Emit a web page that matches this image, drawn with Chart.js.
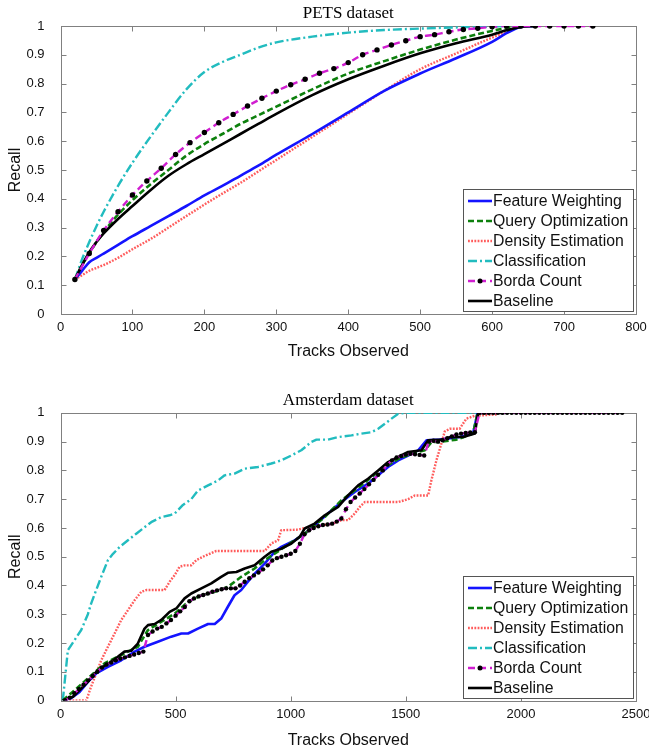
<!DOCTYPE html>
<html><head><meta charset="utf-8">
<script src="https://cdn.jsdelivr.net/npm/chart.js@4.4.0/dist/chart.umd.min.js"></script>
<style>
html,body{margin:0;padding:0;background:#fff;width:649px;height:753px;overflow:hidden;}
.box{position:absolute;left:0;width:649px;}
canvas{display:block;}
</style></head><body>
<div class="box" style="top:0;height:372px"><canvas id="c1" width="649" height="372"></canvas></div>
<div class="box" style="top:386px;height:367px"><canvas id="c2" width="649" height="367"></canvas></div>
<script>
// ---------- labels ----------
const legendLabels = ['Feature Weighting','Query Optimization','Density Estimation','Classification','Borda Count','Baseline'];
const yTickVals = [0,0.1,0.2,0.3,0.4,0.5,0.6,0.7,0.8,0.9,1];
const yTickLabels = ['0','0.1','0.2','0.3','0.4','0.5','0.6','0.7','0.8','0.9','1'];
const petsXTickVals = [0,100,200,300,400,500,600,700,800];
const petsXTickLabels = ['0','100','200','300','400','500','600','700','800'];
const amsXTickVals = [0,500,1000,1500,2000,2500];
const amsXTickLabels = ['0','500','1000','1500','2000','2500'];

// ---------- PETS dataset ----------
const petsX = [20,30,40,50,60,80,100,125,150,175,200,225,250,275,300,350,400,450,500,550,600,620,640,660];
const petsFW = [.12,.15,.18,.195,.21,.24,.27,.305,.34,.375,.412,.445,.48,.515,.553,.625,.70,.775,.835,.888,.945,.975,.997,1];
const petsQO = [.12,.17,.21,.25,.285,.345,.395,.45,.50,.55,.59,.625,.66,.69,.72,.78,.835,.878,.918,.953,.983,.993,1,1];
const petsDE = [.12,.135,.15,.16,.17,.195,.225,.26,.30,.34,.38,.418,.455,.495,.535,.615,.695,.775,.85,.905,.96,.98,1,1];
const petsCL = [.12,.19,.25,.305,.355,.445,.525,.615,.70,.78,.84,.875,.90,.925,.943,.963,.977,.986,.991,.995,.998,1,1,1];
const petsBL = [.12,.17,.215,.25,.28,.33,.375,.43,.48,.52,.555,.59,.625,.66,.695,.76,.815,.862,.905,.94,.97,.985,.997,1];
const petsBCX = [20,40,60,80,100,120,140,160,180,200,220,240,260,280,300,320,340,360,380,400,420,440,460,480,500,520,540,560,580,600,620,640,660,680,700,720,740];
const petsBC = [.12,.21,.29,.355,.413,.462,.506,.554,.595,.63,.664,.693,.722,.749,.774,.796,.815,.836,.852,.873,.90,.917,.934,.949,.963,.970,.98,.988,.992,.997,1,1,1,1,1,1,1];

// ---------- Amsterdam dataset ----------
const amsFWX = [10,46,83,119,155,206,264,322,365,423,481,525,554,597,641,670,698,727,756,785,814,843,887,930,959,1017,1061,1104,1162,1220,1278,1336,1380,1423,1467,1510,1554,1590,1647,1734,1792,1812,1830];
const amsFWY = [0,.008,.03,.065,.094,.117,.14,.17,.187,.204,.222,.233,.233,.25,.266,.266,.285,.326,.366,.384,.413,.44,.476,.517,.534,.557,.58,.609,.65,.69,.725,.754,.783,.812,.835,.852,.87,.905,.907,.916,.928,1,1];
const amsQOX = [10,46,119,191,264,336,380,438,496,554,612,670,727,785,843,887,974,1061,1148,1220,1278,1351,1409,1467,1525,1583,1612,1647,1720,1792,1812,1830];
const amsQOY = [0,.025,.077,.129,.158,.187,.245,.274,.302,.343,.366,.378,.395,.43,.459,.488,.534,.58,.638,.696,.73,.777,.812,.84,.858,.87,.899,.899,.907,.928,1,1];
const amsDEX = [10,112,133,155,177,206,235,264,293,322,351,372,452,474,496,517,539,568,590,619,648,677,887,916,945,959,1032,1061,1184,1220,1249,1278,1300,1322,1467,1510,1539,1597,1611,1633,1655,1669,1691,1734,1763,1800,1900];
const amsDEY = [0,0,.048,.094,.14,.187,.233,.28,.314,.349,.378,.384,.384,.413,.436,.465,.47,.47,.488,.5,.51,.52,.52,.546,.557,.592,.594,.6,.615,.627,.627,.65,.673,.69,.69,.7,.713,.713,.765,.835,.895,.935,.945,.945,.98,.99,.995];
const amsCLX = [10,32,61,90,119,133,155,177,206,228,257,293,329,358,394,438,474,496,532,568,597,641,684,713,756,800,858,916,959,1003,1046,1090,1112,1162,1206,1264,1307,1351,1380,1409,1438,1467,1496,1820];
const amsCLY = [0,.175,.21,.245,.3,.337,.384,.43,.488,.51,.534,.557,.58,.598,.62,.638,.644,.65,.68,.70,.73,.748,.765,.783,.789,.806,.812,.824,.835,.852,.87,.899,.907,.907,.916,.922,.928,.933,.945,.962,.98,.997,1,1];
const amsBLX = [10,54,83,119,148,184,213,249,278,307,336,365,380,409,438,474,503,539,568,612,655,698,727,764,800,843,887,916,959,1003,1039,1061,1104,1148,1206,1249,1293,1336,1380,1423,1467,1510,1568,1597,1669,1691,1749,1800,1814,1930];
const amsBLY = [0,.013,.036,.065,.094,.117,.13,.152,.17,.173,.198,.25,.262,.266,.28,.308,.32,.355,.372,.39,.407,.43,.444,.447,.459,.47,.5,.517,.528,.546,.569,.598,.615,.644,.673,.713,.748,.771,.8,.829,.847,.864,.87,.905,.907,.916,.916,.928,1,1];
const amsBCX = [20,40,60,80,100,120,140,160,180,200,220,240,260,280,300,320,340,360,380,400,420,440,460,480,500,520,540,560,580,600,620,640,660,680,700,720,740,760,780,800,820,840,860,880,900,920,940,960,980,1000,1020,1040,1060,1080,1100,1120,1140,1160,1180,1200,1220,1240,1260,1280,1300,1320,1340,1360,1380,1400,1420,1440,1460,1480,1500,1520,1540,1560,1580,1600,1620,1640,1660,1680,1700,1720,1740,1760,1780,1800,1820,1840,1860,1880,1900,1920,1940,1960,1980,2000,2020,2040,2060,2080,2100,2120,2140,2160,2180,2200,2220,2240,2260,2280,2300,2320,2340,2360,2380,2400,2420,2440];
const amsBCY = [0,.01,.025,.04,.055,.07,.085,.10,.115,.125,.132,.14,.146,.15,.155,.16,.165,.17,.228,.24,.25,.256,.268,.28,.295,.31,.325,.345,.355,.362,.367,.372,.378,.383,.387,.39,.39,.39,.40,.413,.425,.435,.445,.456,.47,.487,.495,.50,.505,.51,.52,.545,.578,.592,.60,.606,.61,.612,.615,.622,.633,.665,.69,.706,.72,.735,.752,.767,.785,.80,.82,.835,.845,.85,.855,.858,.856,.854,.852,.90,.903,.90,.905,.912,.918,.925,.928,.93,.932,.933,1,1,1,1,1,1,1,1,1,1,1,1,1,1,1,1,1,1,1,1,1,1,1,1,1,1,1,1,1,1,1,1];

// ---------- styles ----------
const STY = {
  'Feature Weighting': {borderColor:'#1414ff', borderWidth:2.6, borderDash:[], order:3},
  'Query Optimization': {borderColor:'#0d800d', borderWidth:2.6, borderDash:[6,3], order:2},
  'Density Estimation': {borderColor:'#ff5c5c', borderWidth:2.4, borderDash:[1.8,1.4], order:4},
  'Classification': {borderColor:'#22bcbf', borderWidth:2.4, borderDash:[9,3,2,3], order:5},
  'Borda Count': {borderColor:'#d01ed0', borderWidth:2.4, borderDash:[7,4], order:0},
  'Baseline': {borderColor:'#000000', borderWidth:2.6, borderDash:[], order:1}
};
function mk(label, xs, ys, extra) {
  return Object.assign({label, data: xs.map((x,i)=>({x, y: ys[i]})), pointRadius:0, fill:false,
    borderCapStyle:'butt', borderJoinStyle:'round'}, STY[label], extra||{});
}

const framePlugin = {
  id:'frame',
  beforeDatasetsDraw(chart){
    const {ctx, chartArea:a, scales:{x,y}} = chart;
    ctx.save();
    ctx.strokeStyle='#808080'; ctx.lineWidth=1;
    const l=Math.round(a.left)+0.5, t=Math.round(a.top)+0.5, r=Math.round(a.right)+0.5, b=Math.round(a.bottom)+0.5;
    ctx.strokeRect(l,t,r-l,b-t);
    const L=5;
    ctx.beginPath();
    x.ticks.forEach(tk=>{const px=Math.round(x.getPixelForValue(tk.value))+0.5; ctx.moveTo(px,b); ctx.lineTo(px,b-L); ctx.moveTo(px,t); ctx.lineTo(px,t+L);});
    y.ticks.forEach(tk=>{const py=Math.round(y.getPixelForValue(tk.value))+0.5; ctx.moveTo(l,py); ctx.lineTo(l+L,py); ctx.moveTo(r,py); ctx.lineTo(r-L,py);});
    ctx.stroke();
    ctx.restore();
  }
};
const legendPlugin = {
  id:'insetLegend',
  afterDatasetsDraw(chart){
    const {ctx, chartArea:a} = chart;
    const w=170, h=122;
    const right=Math.round(a.right)-3, bottom=Math.round(a.bottom)-3;
    const left=right-w, top=bottom-h;
    ctx.save();
    ctx.fillStyle='#fff'; ctx.fillRect(left,top,w,h);
    ctx.strokeStyle='#555'; ctx.lineWidth=1; ctx.strokeRect(left+0.5,top+0.5,w,h);
    ctx.font='15.8px "Liberation Sans", Arial, sans-serif'; ctx.textBaseline='middle';
    legendLabels.forEach((lab,i)=>{
      const ds = chart.data.datasets.find(d=>d.label===lab);
      const cy = top+12+i*20;
      ctx.save();
      ctx.strokeStyle=ds.borderColor; ctx.lineWidth=ds.borderWidth; ctx.setLineDash(ds.borderDash||[]);
      ctx.beginPath(); ctx.moveTo(left+5,cy); ctx.lineTo(left+29,cy); ctx.stroke();
      if (ds.pointRadius>0){ ctx.setLineDash([]); ctx.fillStyle='#000'; ctx.beginPath(); ctx.arc(left+17,cy,2.5,0,2*Math.PI); ctx.fill(); }
      ctx.restore();
      ctx.fillStyle='#111';
      ctx.fillText(lab,left+30,cy+1);
    });
    ctx.restore();
  }
};

const SANS = '"Liberation Sans", Arial, sans-serif';
function makeOptions(title, xMax, xVals, xLabels, cfg){
  return {
    responsive:false, animation:false, events:[],
    layout:{padding:{left:0,right:13,top:0,bottom:0}},
    plugins:{
      legend:{display:false}, tooltip:{enabled:false},
      title:{display:true, text:title, fullSize:false, color:'#000',
        font:{family:'"Liberation Serif","Times New Roman",serif', size:17, weight:'normal'},
        padding:{top:cfg.tTop,bottom:cfg.tBot}}
    },
    scales:{
      x:{type:'linear', min:0, max:xMax, grid:{display:false}, border:{display:false},
        afterBuildTicks:s=>{s.ticks=xVals.map(v=>({value:v}));},
        afterFit:s=>{s.height=cfg.xH; s.paddingLeft=0; s.paddingRight=0;},
        ticks:{callback:(v,i)=>xLabels[i], color:'#111', font:{family:SANS,size:13}, padding:-2, maxRotation:0, autoSkip:false},
        title:{display:true, text:'Tracks Observed', color:'#111', font:{family:SANS,size:16}, padding:{top:0,bottom:cfg.xtPad}}},
      y:{type:'linear', min:0, max:1, grid:{display:false}, border:{display:false},
        afterBuildTicks:s=>{s.ticks=yTickVals.map(v=>({value:v}));},
        afterFit:s=>{s.width=60.5; s.paddingTop=0; s.paddingBottom=0;},
        ticks:{callback:(v,i)=>yTickLabels[i], color:'#111', font:{family:SANS,size:13}, padding:8},
        title:{display:true, text:'Recall', color:'#111', font:{family:SANS,size:16}, padding:{top:6,bottom:0}}}
    }
  };
}

const mono = {cubicInterpolationMode:'monotone'};
new Chart(document.getElementById('c1'), {
  type:'line',
  data:{datasets:[
    mk('Feature Weighting', petsX, petsFW, mono),
    mk('Query Optimization', petsX, petsQO, mono),
    mk('Density Estimation', petsX, petsDE, mono),
    mk('Classification', petsX, petsCL, mono),
    mk('Borda Count', petsBCX, petsBC, Object.assign({pointRadius:2.7, pointBackgroundColor:'#000', pointBorderWidth:0}, mono)),
    mk('Baseline', petsX, petsBL, mono)
  ]},
  options: makeOptions('PETS dataset', 800, petsXTickVals, petsXTickLabels, {tTop:3.6, tBot:2, xH:58, xtPad:10.4}),
  plugins:[framePlugin, legendPlugin]
});
new Chart(document.getElementById('c2'), {
  type:'line',
  data:{datasets:[
    mk('Feature Weighting', amsFWX, amsFWY),
    mk('Query Optimization', amsQOX, amsQOY),
    mk('Density Estimation', amsDEX, amsDEY),
    mk('Classification', amsCLX, amsCLY),
    mk('Borda Count', amsBCX, amsBCY, {pointRadius:2.2, pointBackgroundColor:'#000', pointBorderWidth:0}),
    mk('Baseline', amsBLX, amsBLY)
  ]},
  options: makeOptions('Amsterdam dataset', 2500, amsXTickVals, amsXTickLabels, {tTop:4.5, tBot:2, xH:52.5, xtPad:3.2}),
  plugins:[framePlugin, legendPlugin]
});
</script>
</body></html>
